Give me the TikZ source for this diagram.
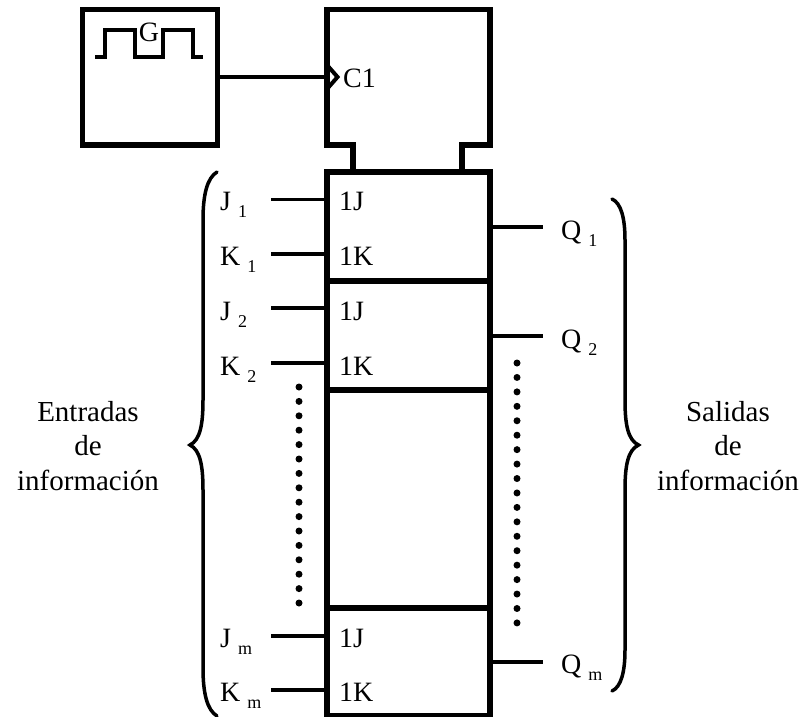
\documentclass[tikz,border=0pt]{standalone}
\usepackage{fontspec}
\setmainfont{Liberation Serif}
\newcommand{\sbs}[1]{\hspace{7pt}\raisebox{-7pt}{\fontsize{18}{18}\selectfont #1}}
\tikzset{
  heavy/.style={line width=5.5pt},
  wire/.style={line width=3.3pt},
  curly/.style={line width=3.5pt, line cap=round},
  stage/.style={draw, heavy, minimum width=163pt, inner sep=0pt, outer sep=0pt},
  lbl/.style={anchor=base west, inner sep=0pt},
  side/.style={align=center, anchor=base, inner sep=0pt, font=\fontsize{29}{34.5}\selectfont}
}
\begin{document}
\begin{tikzpicture}[x=1pt, y=-1pt, font=\fontsize{28}{34}\selectfont]
\useasboundingbox (0,0) rectangle (811,717);
% generator
\node[draw, heavy, minimum width=135pt, minimum height=135.5pt, inner sep=0pt, outer sep=0pt] (gen) at (150,77.25) {};
\draw[wire] (95,57) -- (105,57) -- (105,30) -- (135,30) -- (135,57) -- (163,57) -- (163,30) -- (193,30) -- (193,57) -- (203,57);
\node[inner sep=0pt] (glabel) at (149,32) {G};
% register stages
\node[stage, minimum height=109pt] (stageone) at (408.5,226.5) {};
\node[stage, minimum height=109pt] (stagetwo) at (408.5,335.5) {};
\node[stage, minimum height=218pt] (stagegap) at (408.5,499) {};
\node[stage, minimum height=108pt] (stagelast) at (408.5,662) {};
% control block
\draw[heavy] (353,172) -- (353,145) -- (327,145) -- (327,9.5) -- (490,9.5) -- (490,145) -- (462,145) -- (462,172);
\coordinate (clk) at (327,77);
\draw[wire] (gen.east |- clk) -- (clk);
\draw[line width=4pt] (327,65) -- (337.5,77) -- (327,89);
\node[lbl] (clabel) at (343,88) {C1};
% inputs
\foreach \name/\y/\base/\txt/\sub/\cell in {jone/199.5/210/J/1/1J, kone/254/265/K/1/1K, jtwo/308/320/J/2/1J, ktwo/363/375/K/2/1K, jlast/636/647/J/m/1J, klast/690/701/K/m/1K} {
  \coordinate (\name) at (271,\y);
  \draw[wire] (\name) -- (\name -| stageone.west);
  \node[lbl] (\name label) at (220,\base) {\txt\sbs{\sub}};
  \node[lbl] (\name cell) at (339,\base) {\cell};
}
% outputs
\foreach \name/\y/\base/\sub in {qone/227/239/1, qtwo/336/348/2, qlast/662/673/m} {
  \coordinate (\name) at (543,\y);
  \draw[wire] (stageone.east |- \name) -- (\name);
  \node[lbl] (\name label) at (561,\base) {Q\sbs{\sub}};
}
% dots
\foreach \i in {0,...,15} \fill (299,387+\i*14.4) circle (3.5pt);
\foreach \i in {0,...,18} \fill (517,363+\i*14.44) circle (3.5pt);
% braces
\draw[curly] (217,172) .. controls (207,178) and (203,195) .. (203,220) -- (203,400) .. controls (203,425) and (200,440) .. (190,445) .. controls (200,450) and (203,465) .. (203,490) -- (203,668) .. controls (203,693) and (207,710) .. (217,716);
\draw[curly] (612,199) .. controls (621,203) and (625,218) .. (625,240) -- (625,400) .. controls (625,425) and (628,440) .. (638.5,445) .. controls (628,450) and (625,465) .. (625,490) -- (625,650) .. controls (625,672) and (621,687) .. (612,691);
% captions
\node[side] (inlabel) at (88,490) {Entradas\\de\\información};
\node[side] (outlabel) at (728,490) {Salidas\\de\\información};
\end{tikzpicture}
\end{document}
